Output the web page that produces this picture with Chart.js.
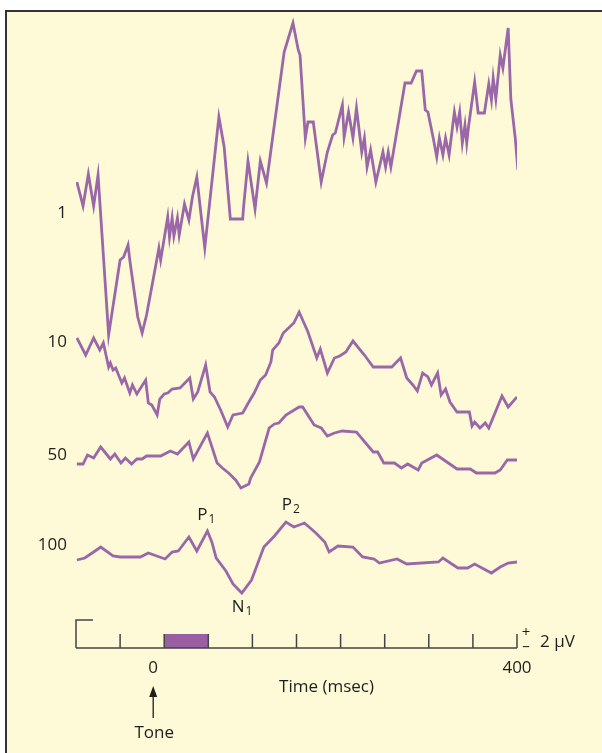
<!DOCTYPE html>
<html>
<head>
<meta charset="utf-8">
<script src="https://cdn.jsdelivr.net/npm/chart.js@4/dist/chart.umd.min.js"></script>
<style>
html,body{margin:0;padding:0;background:#fff;}
#wrap{position:relative;width:602px;height:753px;}
</style>
</head>
<body>
<div id="wrap"><canvas id="c"></canvas></div>
<script>
// ---- Data (time in msec, amplitude in µV relative to each trace's baseline) ----
const trialCounts = ["1", "10", "50", "100"];

const t1 = [-99,-92,-86,-80,-75,-63,-50,-46,-41,-39,-30,-25,-20,-12,-6,-4,4,6,9,11,15,17,23,28,32,37,46,62,68,75,89,90,95,103,109,116,136,146,152,154,160,163,169,178,185,191,194,202,204,209,214,218,224,227,230,234,240,244,248,251,254,257,273,280,286,292,296,299,305,309,312,316,319,323,329,332,335,338,341,343,345,352,356,363,368,371,373,376,381,384,390,393,398,401];
const v1 = [3.6,1.2,4.4,1.2,4.3,-11.7,-4.2,-3.9,-2.7,-4.2,-9.9,-11.5,-9.7,-5.9,-3.0,-4.2,0.1,-1.9,0,-1.8,0,-1.7,1.4,-0.2,2.1,4.1,-3.0,10.1,7.1,-0.1,-0.1,1.1,5.7,0.9,5.7,3.5,16.6,19.5,16.8,16.3,8.0,9.6,9.6,3.6,6.6,8.3,8.5,11.3,8.1,10.6,8.0,11.0,6.6,8.0,5.1,6.8,3.6,5.1,6.6,5.1,6.6,5.1,13.5,13.5,14.7,14.7,10.8,10.6,8.0,6.1,8.0,6.3,8.0,6.3,10.6,9.1,10.6,7.5,9.3,7.5,9.1,13.6,10.5,10.5,13.4,11.8,14.0,11.9,16.3,15.0,19.0,11.9,8.0,4.8];

const t10 = [-99,-89,-80,-73,-69,-63,-61,-58,-55,-48,-45,-39,-36,-31,-21,-18,-14,-8,-5,0,4,9,18,29,33,38,47,52,57,64,72,78,89,96,102,109,115,121,123,130,135,147,153,163,173,177,185,193,199,206,214,227,237,258,268,275,282,287,293,299,303,310,314,319,324,332,346,349,352,358,364,368,383,390,400];
const v10 = [2.0,0.3,2.0,0.8,1.5,-0.9,-0.5,-1.2,-1.0,-2.5,-2.0,-3.5,-2.7,-3.6,-2.2,-4.5,-4.7,-5.7,-4.1,-3.6,-3.5,-3.1,-3.0,-2.0,-4.1,-3.4,-0.7,-3.4,-3.9,-5.2,-6.9,-5.7,-5.5,-4.4,-3.5,-2.2,-1.7,-0.4,0.8,1.5,2.5,3.5,4.6,2.6,0.0,0.9,-1.5,0.0,0.2,0.6,1.7,0.3,-0.9,-0.9,0.0,-2.0,-2.7,-3.3,-1.5,-1.9,-2.7,-1.5,-3.7,-3.1,-4.4,-5.4,-5.4,-6.8,-6.4,-7.0,-6.5,-7.0,-3.8,-4.9,-3.9];

const t50 = [-99,-92,-87,-80,-72,-61,-56,-49,-44,-37,-31,-25,-20,-4,7,15,28,33,49,60,66,73,81,87,96,98,108,119,125,130,138,153,157,170,178,185,193,202,218,237,242,249,261,269,276,288,292,309,332,347,354,375,381,389,400];
const v50 = [-0.6,-0.6,0.3,0.0,1.1,-0.1,0.4,-0.5,0.0,-0.6,-0.1,-0.1,0.2,0.2,0.7,0.4,1.6,-0.1,2.5,-0.5,-1.0,-1.5,-2.2,-3.0,-2.6,-2.0,-0.4,3.0,3.4,3.5,4.3,5.1,5.1,3.3,3.0,2.2,2.5,2.7,2.6,0.6,0.6,-0.5,-0.5,-1.0,-0.6,-1.2,-0.5,0.3,-1.1,-1.1,-1.5,-1.5,-1.2,-0.2,-0.2];

const t100 = [-99,-90,-80,-72,-58,-50,-27,-18,1,9,16,28,37,49,54,59,70,78,88,99,113,125,138,147,159,172,182,187,197,214,225,238,244,264,275,311,316,333,344,352,371,381,390,400];
const v100 = [-0.2,0.0,0.6,1.1,0.2,0.1,0.1,0.5,-0.1,0.6,0.7,2.1,0.7,2.7,1.6,0.0,-1.3,-2.6,-3.5,-2.2,1.1,2.2,3.6,3.1,3.5,2.5,1.6,0.6,1.2,1.1,0.1,-0.1,-0.5,-0.1,-0.6,-0.4,0.0,-1.0,-1.0,-0.6,-1.5,-0.9,-0.5,-0.4];

const axisTicks = [-50,0,50,100,150,200,250,300,350,400];
const tickLabels = {0:"0", 400:"400"};
const toneStart = 0, toneEnd = 50;
const calibration = "2 \u00B5V";

// ---- layout constants (not data) ----
const traceOffsets = [43, 29, 19, 9]; // vertical separation of traces on the plot
const purple = '#9a68a8';
const ink = '#1e1e1e';
const FONT = '"Open Sans", "Liberation Sans", sans-serif';

function pts(ts, vs, off){ return ts.map((t,i)=>({x:t, y:vs[i]+off})); }
const series = [[t1,v1],[t10,v10],[t50,v50],[t100,v100]];

const bgPlugin = {
  id:'bg',
  beforeDraw(chart){
    const ctx = chart.ctx;
    ctx.save();
    ctx.fillStyle = '#ffffff';
    ctx.fillRect(0,0,chart.width,chart.height);
    ctx.fillStyle = '#fefad7';
    ctx.fillRect(6,11,chart.width-6,chart.height-11);
    ctx.strokeStyle = '#333';
    ctx.lineWidth = 2;
    ctx.beginPath();
    ctx.moveTo(6,chart.height); ctx.lineTo(6,11); ctx.lineTo(chart.width,11);
    ctx.stroke();
    ctx.restore();
  }
};

const axisPlugin = {
  id:'timeAxis',
  afterDraw(chart){
    const ctx = chart.ctx, xs = chart.scales.x, ys = chart.scales.y;
    const base = ys.getPixelForValue(0);
    const x0 = xs.getPixelForValue(xs.min), x1 = xs.getPixelForValue(xs.max);
    ctx.save();
    // stimulus bar
    const bx0 = xs.getPixelForValue(toneStart), bx1 = xs.getPixelForValue(toneEnd);
    ctx.fillStyle = '#9a5fa3';
    ctx.fillRect(bx0, base-14, bx1-bx0, 14);
    ctx.strokeStyle = '#444';
    ctx.lineWidth = 1.5;
    ctx.beginPath();
    // baseline
    ctx.moveTo(x0, base); ctx.lineTo(x1, base);
    // left bracket
    ctx.moveTo(x0+17, base-28); ctx.lineTo(x0, base-28); ctx.lineTo(x0, base);
    // ticks
    axisTicks.forEach(t=>{
      const px = xs.getPixelForValue(t);
      ctx.moveTo(px, base-14); ctx.lineTo(px, base);
    });
    ctx.stroke();
    // labels
    ctx.fillStyle = ink;
    ctx.font = '17px ' + FONT;
    ctx.textAlign = 'center';
    ctx.textBaseline = 'middle';
    Object.keys(tickLabels).forEach(k=>{
      const v = +k;
      const px = xs.getPixelForValue(v) + (v===0 ? -11 : 0);
      ctx.fillText(tickLabels[k], px, base+20);
    });
    ctx.fillText('Time (msec)', (xs.getPixelForValue(150)+xs.getPixelForValue(200))/2 + 8, base+39);
    // Tone arrow
    const ax = xs.getPixelForValue(0) - 11;
    ctx.strokeStyle = ink; ctx.lineWidth = 1.3;
    ctx.beginPath(); ctx.moveTo(ax, base+46); ctx.lineTo(ax, base+70); ctx.stroke();
    ctx.beginPath(); ctx.moveTo(ax, base+38); ctx.lineTo(ax-4, base+49); ctx.lineTo(ax+4, base+49); ctx.closePath(); ctx.fill();
    ctx.fillText('Tone', ax+1, base+85);
    // calibration
    ctx.font = '15px ' + FONT;
    ctx.fillText('+', x1+9, base-15);
    ctx.fillText('\u2013', x1+9, base-1);
    ctx.font = '17px ' + FONT;
    ctx.textAlign = 'left';
    ctx.fillText(calibration, x1+23, base-6);
    // trace labels
    ctx.textAlign = 'right';
    const labelY = [ 0.5, 1.6, 0.3, 1.3 ];
    trialCounts.forEach((s,i)=>{
      ctx.fillText(s, x0-9, ys.getPixelForValue(traceOffsets[i]+labelY[i]));
    });
    // component labels
    function comp(main, sub, t, v){
      const px = xs.getPixelForValue(t), py = ys.getPixelForValue(v);
      ctx.font = '17px ' + FONT; ctx.textAlign = 'right';
      ctx.fillText(main, px, py);
      ctx.font = '12px ' + FONT; ctx.textAlign = 'left';
      ctx.fillText(sub, px+1, py+5);
    }
    comp('P','1', 49, traceOffsets[3]+4.3);
    comp('P','2', 145, traceOffsets[3]+5.3);
    comp('N','1', 91, traceOffsets[3]-4.9);
    ctx.restore();
  }
};

new Chart(document.getElementById('c'), {
  type:'line',
  data:{
    datasets: series.map((s,i)=>({
      label: trialCounts[i],
      data: pts(s[0], s[1], traceOffsets[i]),
      borderColor: purple,
      borderWidth: 2.8,
      pointRadius: 0,
      tension: 0,
      fill: false,
      borderJoinStyle: 'miter'
    }))
  },
  options:{
    responsive:true,
    maintainAspectRatio:false,
    animation:false,
    devicePixelRatio:1,
    layout:{padding:{left:76, right:85, top:18, bottom:105}},
    plugins:{legend:{display:false}, tooltip:{enabled:false}},
    scales:{
      x:{type:'linear', min:-100, max:400, display:false},
      y:{type:'linear', min:0, max:63, display:false}
    }
  },
  plugins:[bgPlugin, axisPlugin]
});
</script>
</body>
</html>
